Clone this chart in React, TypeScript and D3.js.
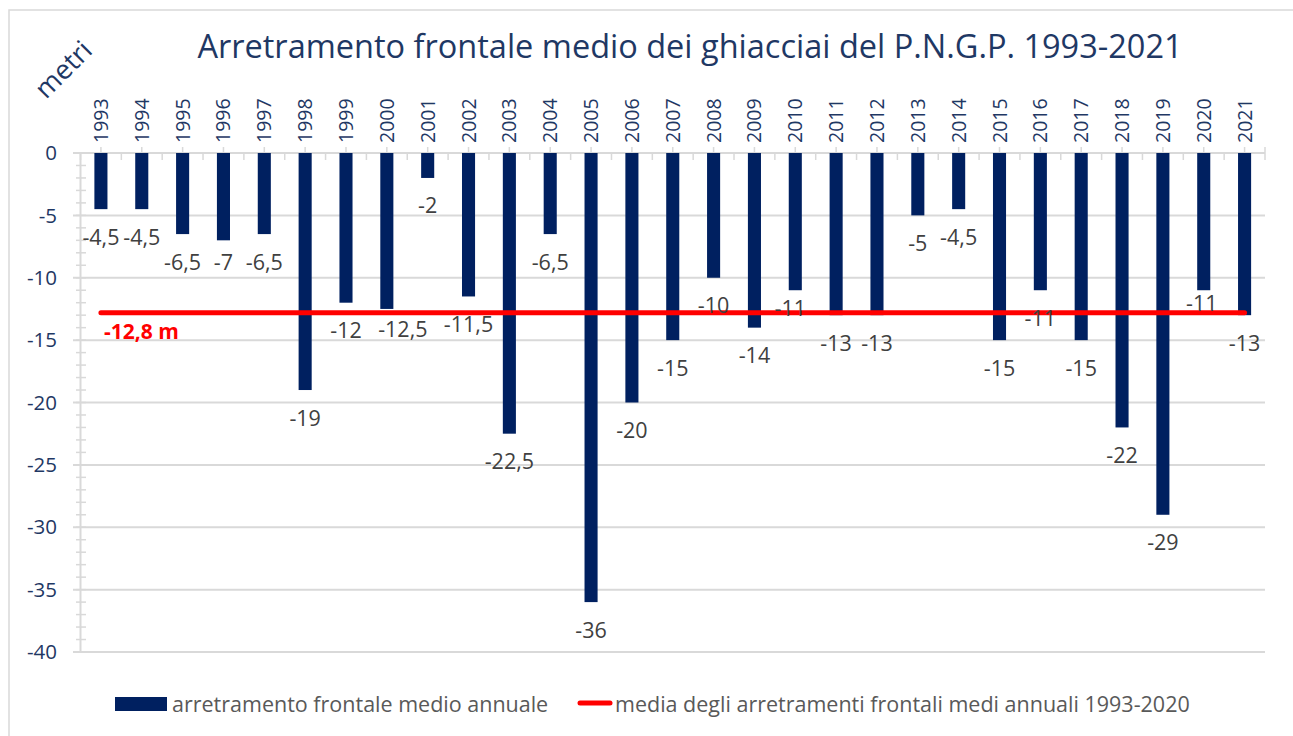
import React from "react";
import * as d3 from "d3";

const years: string[] = [
  "1993","1994","1995","1996","1997","1998","1999","2000","2001","2002",
  "2003","2004","2005","2006","2007","2008","2009","2010","2011","2012",
  "2013","2014","2015","2016","2017","2018","2019","2020","2021",
];
const retreat: number[] = [
  -4.5, -4.5, -6.5, -7, -6.5, -19, -12, -12.5, -2, -11.5,
  -22.5, -6.5, -36, -20, -15, -10, -14, -11, -13, -13,
  -5, -4.5, -15, -11, -15, -22, -29, -11, -13,
];
const meanValue = -12.8;
const meanLabel = "-12,8 m";
const yTicks: number[] = [0, -5, -10, -15, -20, -25, -30, -35, -40];

const title = "Arretramento frontale medio dei ghiacciai del P.N.G.P. 1993-2021";
const barLegend = "arretramento frontale medio annuale";
const lineLegend = "media degli arretramenti frontali medi annuali 1993-2020";

// manual label nudges (as in the original)
const labelNudge: Record<string, [number, number]> = {
  "1996": [0, -6],
  "2000": [16, -7],
  "2010": [-5, -10],
  "2020": [-2, -15],
};

const W = 1293;
const H = 736;
const FONT = "'Open Sans', 'Noto Sans', sans-serif";
const NAVY = "#002060";
const TXT = "#1F3864";
const GRID = "#d9d9d9";

export default function App() {
  const left = 80.5;
  const right = 1265;
  const top = 153;
  const bottom = 652;

  const x = d3.scaleBand<string>().domain(years).range([left, right]).paddingInner(0.68).paddingOuter(0.34);
  const xc = (yr: string) => (x(yr) as number) + x.bandwidth() / 2;
  const step = x.step();
  const y = d3.scaleLinear().domain([0, -40]).range([top, bottom]);
  const minor = d3.range(0, -41, -1);
  const fmt = (v: number) => String(v).replace(".", ",");

  const line = d3.line<string>().x((d) => xc(d)).y(() => y(meanValue));

  return (
    <svg width={W} height={H} style={{ position: "absolute", left: 0, top: 0 }} fontFamily={FONT}>
      <rect x={0} y={0} width={W} height={H} fill="#fff" />
      <rect x={9} y={10} width={W + 10} height={H + 10} fill="none" stroke={GRID} strokeWidth={1.5} />

      <text x={690} y={58} textAnchor="middle" fontSize={32.5} fill={TXT}>{title}</text>
      <text transform="translate(70,76) rotate(-45)" textAnchor="middle" fontSize={27} fill={TXT}>metri</text>

      {/* gridlines */}
      {yTicks.map((t) => (
        <line key={"g" + t} x1={73} x2={right} y1={y(t)} y2={y(t)} stroke={GRID} strokeWidth={2} />
      ))}
      {/* y axis */}
      <line x1={left} x2={left} y1={top} y2={bottom} stroke={GRID} strokeWidth={2} />
      {minor.map((t) => (
        <line key={"m" + t} x1={76} x2={86} y1={y(t)} y2={y(t)} stroke={GRID} strokeWidth={1.5} />
      ))}
      {yTicks.map((t) => (
        <text key={"yl" + t} x={57} y={y(t)} dy="0.35em" textAnchor="end" fontSize={20.5} fill={TXT}>{t}</text>
      ))}

      {/* x axis ticks */}
      {years.map((yr, i) => (
        <g key={"xt" + yr}>
          <line x1={xc(yr)} x2={xc(yr)} y1={147} y2={top} stroke={GRID} strokeWidth={1.5} />
          <line x1={left + step * i} x2={left + step * i} y1={top} y2={160} stroke={GRID} strokeWidth={1.5} />
        </g>
      ))}
      <line x1={right} x2={right} y1={147} y2={160} stroke={GRID} strokeWidth={1.5} />
      {years.map((yr) => (
        <text key={"xl" + yr} transform={`translate(${xc(yr) + 7},143) rotate(-90)`} textAnchor="start" fontSize={19.5} fill={TXT}>{yr}</text>
      ))}

      {/* bars */}
      {years.map((yr, i) => (
        <rect key={"b" + yr} x={x(yr)} y={y(0)} width={x.bandwidth()} height={y(retreat[i]) - y(0)} fill={NAVY} />
      ))}

      {/* mean line */}
      <path d={line([years[0], years[years.length - 1]]) || ""} stroke="#ff0000" strokeWidth={5} strokeLinecap="round" fill="none" />
      <text x={104} y={332} dy="0.35em" fontSize={21} fontWeight="bold" fill="#ff0000">{meanLabel}</text>

      {/* data labels */}
      {years.map((yr, i) => {
        const [dx, dy] = labelNudge[yr] || [0, 0];
        return (
          <text key={"dl" + yr} x={xc(yr) + dx} y={y(retreat[i]) + 28 + dy} dy="0.35em" textAnchor="middle" fontSize={21.5} fill="#404040">
            {fmt(retreat[i])}
          </text>
        );
      })}

      {/* legend */}
      <rect x={115} y={697} width={52} height={14} fill={NAVY} />
      <text x={172} y={704} dy="0.35em" fontSize={21.5} fill="#595959">{barLegend}</text>
      <line x1={580} x2={610} y1={703} y2={703} stroke="#ff0000" strokeWidth={5} strokeLinecap="round" />
      <text x={615} y={704} dy="0.35em" fontSize={21.5} fill="#595959">{lineLegend}</text>
    </svg>
  );
}
